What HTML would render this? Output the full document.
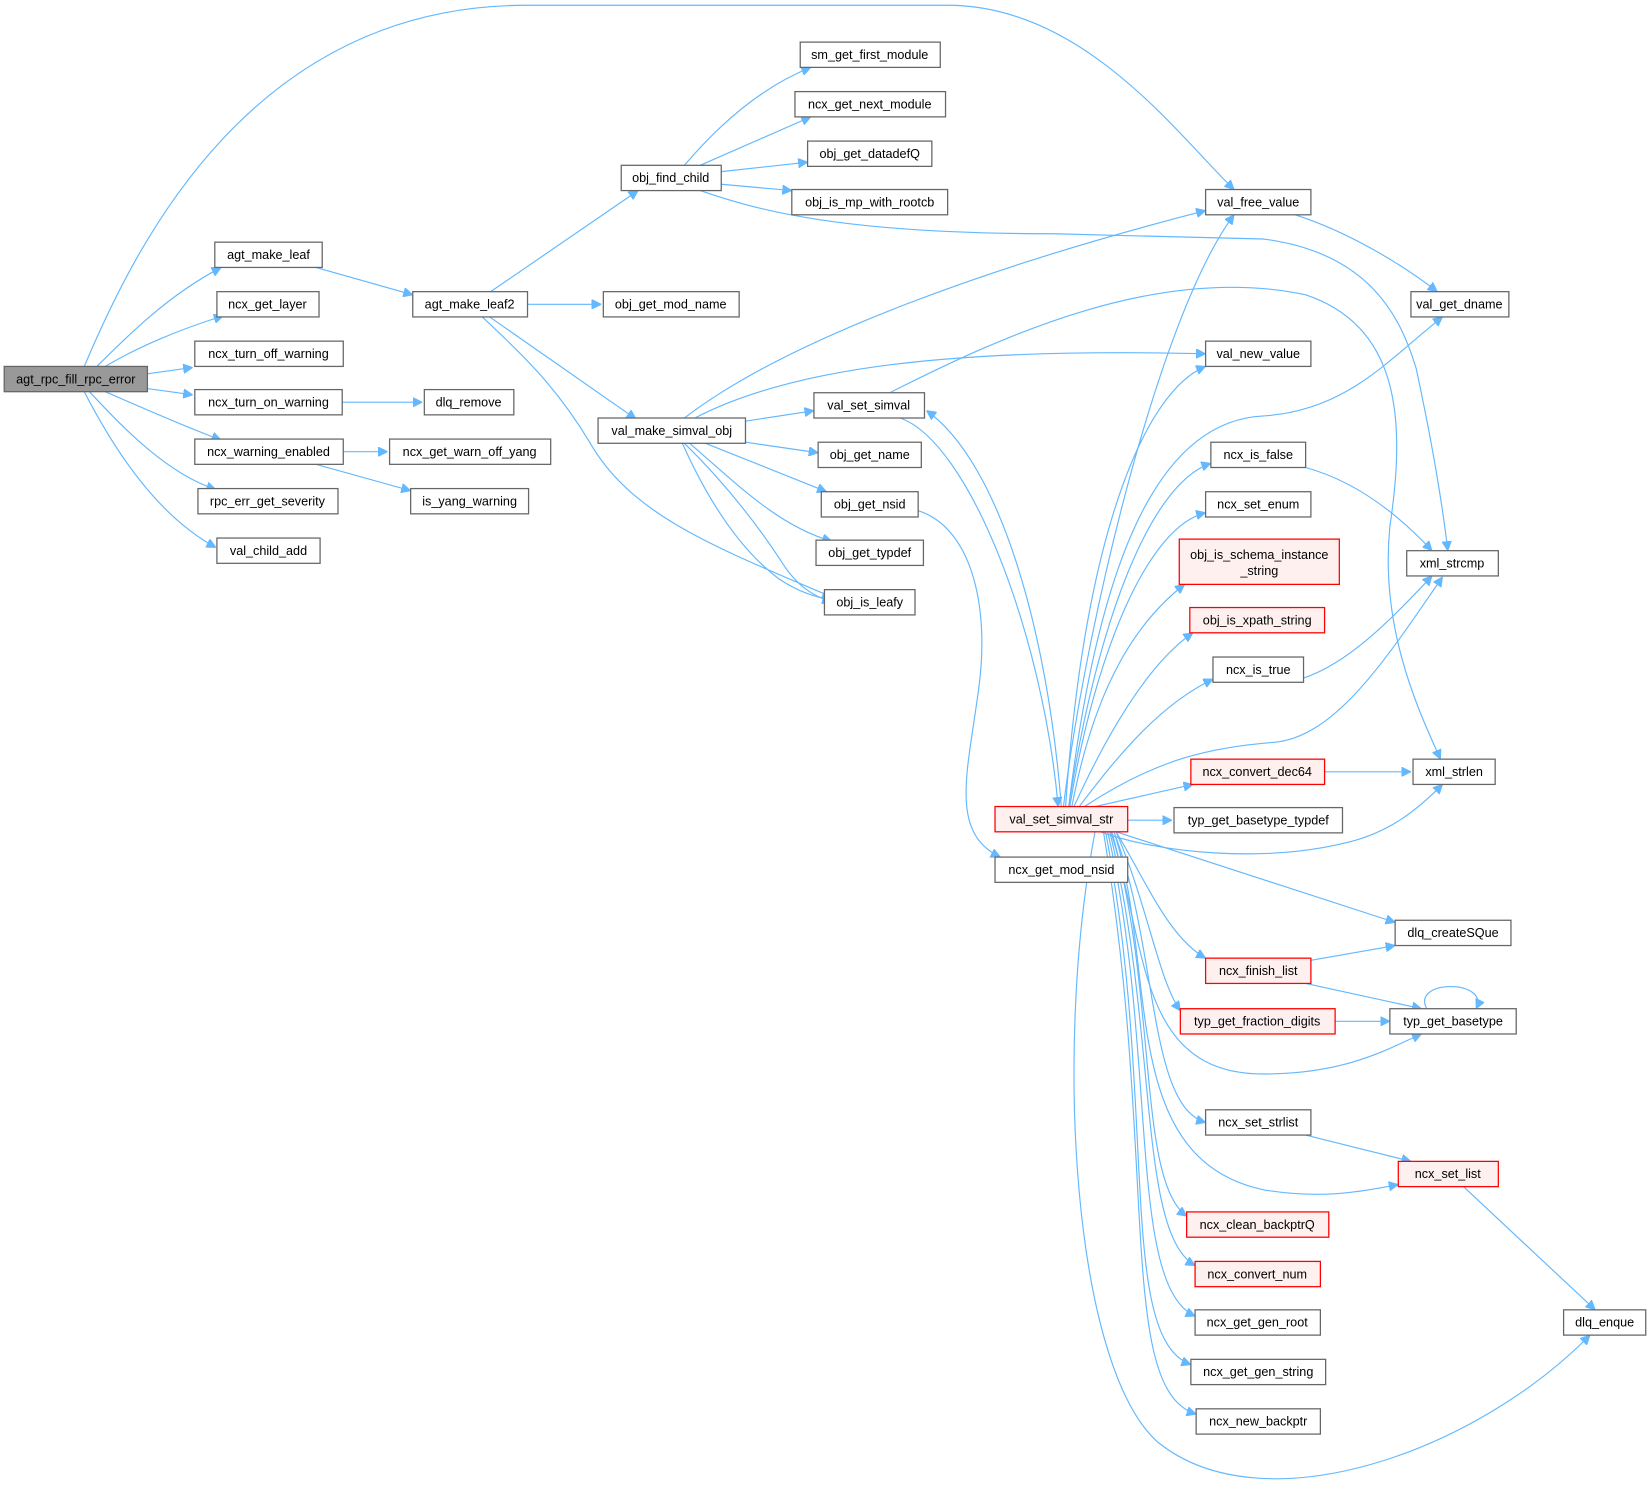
<!DOCTYPE html>
<html><head><meta charset="utf-8"><style>
html,body{margin:0;padding:0;background:#fff;}
svg{display:block;}
text{font-family:"Liberation Sans",Arial,sans-serif;font-size:12px;fill:#000;}
.n{fill:#fff;stroke:#666;stroke-width:1.2;}
.r{fill:#fff0f0;stroke:#f00;stroke-width:1.2;}
.g{fill:#999;stroke:#666;stroke-width:1.2;}
path.e{fill:none;stroke:#63b8ff;stroke-width:1.1;marker-end:url(#a);}
</style></head><body>
<svg width="1651" height="1492" viewBox="0 0 1568 1417" xmlns="http://www.w3.org/2000/svg">
<defs><marker id="a" viewBox="0 0 10 10" refX="10" refY="5" markerWidth="9" markerHeight="9" orient="auto" markerUnits="userSpaceOnUse"><path d="M0,0 L10,5 L0,10 z" fill="#63b8ff" stroke="#63b8ff"/></marker></defs>

<!-- edges -->
<path class="e" d="M80,348 C130,230 240,5 500,5 L900,5 C1030,5 1120,130 1172,180"/>
<path class="e" d="M92,348 C120,320 160,280 210,254"/>
<path class="e" d="M100,348 C130,330 170,313 212,300"/>
<path class="e" d="M140,355 L183,349"/>
<path class="e" d="M140,369 L183,375"/>
<path class="e" d="M100,372 C130,385 170,403 210,418"/>
<path class="e" d="M85,372 C120,410 160,450 205,465"/>
<path class="e" d="M80,372 C110,430 150,490 205,520"/>
<path class="e" d="M300,254 L392,280"/>
<path class="e" d="M325,382 L401,382"/>
<path class="e" d="M326,429 L368,429"/>
<path class="e" d="M300,441 L390,466"/>
<path class="e" d="M466,277 L606,181"/>
<path class="e" d="M501,289 L571,289"/>
<path class="e" d="M465,301 L604,398"/>
<path class="e" d="M458,301 C500,340 530,370 560,420 C600,490 680,520 790,567"/>
<path class="e" d="M650,397 C750,320 950,250 1145,200"/>
<path class="e" d="M660,397 C750,350 900,330 1145,336"/>
<path class="e" d="M708,400 L773,390"/>
<path class="e" d="M708,420 L777,430"/>
<path class="e" d="M670,421 L785,467"/>
<path class="e" d="M655,421 C700,460 740,500 790,514"/>
<path class="e" d="M650,421 C690,460 720,500 740,530 C755,555 770,565 790,572"/>
<path class="e" d="M648,421 C670,470 700,520 740,550 C760,563 775,567 790,570"/>
<path class="e" d="M650,157 C690,110 730,80 770,64"/>
<path class="e" d="M665,157 L770,111"/>
<path class="e" d="M685,163 L767,154"/>
<path class="e" d="M685,175 L752,181"/>
<path class="e" d="M665,181 C720,200 800,222 1000,222 L1200,227 C1300,240 1330,300 1345,350 C1360,420 1370,480 1375,523"/>
<path class="e" d="M872,485 C920,500 940,570 930,650 C920,730 900,790 950,814"/>
<path class="e" d="M855,397 C920,420 990,600 1005,766"/>
<path class="e" d="M1008,766 C995,600 950,440 880,390"/>
<path class="e" d="M845,373 C950,320 1100,250 1240,280 C1330,310 1335,400 1320,500 C1310,600 1350,680 1368,721"/>
<path class="e" d="M1230,204 C1280,220 1330,250 1365,277"/>
<path class="e" d="M1010,766 C1030,600 1100,300 1172,204"/>
<path class="e" d="M1012,766 C1030,500 1090,370 1145,348"/>
<path class="e" d="M1015,766 C1040,560 1090,400 1200,395 C1280,390 1320,340 1370,301"/>
<path class="e" d="M1015,766 C1040,600 1090,460 1150,440"/>
<path class="e" d="M1016,766 C1040,620 1090,500 1145,487"/>
<path class="e" d="M1018,766 C1040,650 1080,590 1125,555"/>
<path class="e" d="M1020,766 C1050,700 1090,630 1133,601"/>
<path class="e" d="M1025,766 C1060,720 1100,670 1152,645"/>
<path class="e" d="M1030,766 C1100,720 1150,710 1210,705 C1270,700 1320,620 1370,548"/>
<path class="e" d="M1040,766 L1133,745"/>
<path class="e" d="M1071,779 L1113,779"/>
<path class="e" d="M1045,790 C1100,810 1200,820 1280,800 C1320,790 1345,770 1370,745"/>
<path class="e" d="M1060,790 L1325,876"/>
<path class="e" d="M1060,790 C1090,840 1110,890 1145,910"/>
<path class="e" d="M1060,790 C1090,860 1100,930 1121,960"/>
<path class="e" d="M1055,790 C1090,900 1080,1020 1200,1020 C1280,1020 1320,995 1350,982"/>
<path class="e" d="M1058,790 C1100,900 1090,1050 1145,1066"/>
<path class="e" d="M1058,790 C1100,920 1060,1100 1200,1130 C1260,1140 1300,1130 1328,1125"/>
<path class="e" d="M1056,790 C1100,950 1080,1120 1127,1155"/>
<path class="e" d="M1054,790 C1100,980 1080,1170 1135,1202"/>
<path class="e" d="M1052,790 C1100,1000 1070,1220 1135,1250"/>
<path class="e" d="M1050,790 C1100,1050 1060,1270 1131,1296"/>
<path class="e" d="M1048,790 C1100,1100 1060,1320 1136,1343"/>
<path class="e" d="M1040,790 C1000,1000 1020,1300 1100,1370 C1200,1450 1400,1380 1510,1268"/>
<path class="e" d="M1240,444 C1280,455 1320,480 1360,523"/>
<path class="e" d="M1238,644 C1280,630 1320,590 1360,547"/>
<path class="e" d="M1258,733 L1340,733"/>
<path class="e" d="M1245,912 L1325,898"/>
<path class="e" d="M1240,934 L1350,958"/>
<path class="e" d="M1268,970 L1320,970"/>
<path class="e" d="M1355,958 C1340,930 1415,930 1402,958"/>
<path class="e" d="M1240,1078 L1340,1103"/>
<path class="e" d="M1390,1127 L1515,1244"/>

<!-- nodes -->
<g>
<rect class="g" x="4" y="348" width="136" height="24"/><text x="72" y="364" text-anchor="middle">agt_rpc_fill_rpc_error</text>
<rect class="n" x="204" y="230" width="102" height="24"/><text x="255" y="246" text-anchor="middle">agt_make_leaf</text>
<rect class="n" x="206" y="277" width="97" height="24"/><text x="254" y="293" text-anchor="middle">ncx_get_layer</text>
<rect class="n" x="185" y="324" width="141" height="24"/><text x="255" y="340" text-anchor="middle">ncx_turn_off_warning</text>
<rect class="n" x="185" y="370" width="140" height="24"/><text x="255" y="386" text-anchor="middle">ncx_turn_on_warning</text>
<rect class="n" x="185" y="417" width="141" height="24"/><text x="255" y="433" text-anchor="middle">ncx_warning_enabled</text>
<rect class="n" x="188" y="464" width="133" height="24"/><text x="254" y="480" text-anchor="middle">rpc_err_get_severity</text>
<rect class="n" x="206" y="511" width="98" height="24"/><text x="255" y="527" text-anchor="middle">val_child_add</text>
<rect class="n" x="392" y="277" width="109" height="24"/><text x="446" y="293" text-anchor="middle">agt_make_leaf2</text>
<rect class="n" x="403" y="370" width="85" height="24"/><text x="445" y="386" text-anchor="middle">dlq_remove</text>
<rect class="n" x="370" y="417" width="153" height="24"/><text x="446" y="433" text-anchor="middle">ncx_get_warn_off_yang</text>
<rect class="n" x="390" y="464" width="112" height="24"/><text x="446" y="480" text-anchor="middle">is_yang_warning</text>
<rect class="n" x="590" y="157" width="95" height="24"/><text x="637" y="173" text-anchor="middle">obj_find_child</text>
<rect class="n" x="573" y="277" width="129" height="24"/><text x="637" y="293" text-anchor="middle">obj_get_mod_name</text>
<rect class="n" x="568" y="397" width="140" height="24"/><text x="638" y="413" text-anchor="middle">val_make_simval_obj</text>
<rect class="n" x="760" y="40" width="133" height="24"/><text x="826" y="56" text-anchor="middle">sm_get_first_module</text>
<rect class="n" x="755" y="87" width="143" height="24"/><text x="826" y="103" text-anchor="middle">ncx_get_next_module</text>
<rect class="n" x="767" y="134" width="118" height="24"/><text x="826" y="150" text-anchor="middle">obj_get_datadefQ</text>
<rect class="n" x="752" y="180" width="148" height="24"/><text x="826" y="196" text-anchor="middle">obj_is_mp_with_rootcb</text>
<rect class="n" x="773" y="373" width="105" height="24"/><text x="825" y="389" text-anchor="middle">val_set_simval</text>
<rect class="n" x="777" y="420" width="98" height="24"/><text x="826" y="436" text-anchor="middle">obj_get_name</text>
<rect class="n" x="780" y="467" width="92" height="24"/><text x="826" y="483" text-anchor="middle">obj_get_nsid</text>
<rect class="n" x="775" y="513" width="102" height="24"/><text x="826" y="529" text-anchor="middle">obj_get_typdef</text>
<rect class="n" x="783" y="560" width="86" height="24"/><text x="826" y="576" text-anchor="middle">obj_is_leafy</text>
<rect class="r" x="945" y="766" width="126" height="24"/><text x="1008" y="782" text-anchor="middle">val_set_simval_str</text>
<rect class="n" x="945" y="814" width="126" height="24"/><text x="1008" y="830" text-anchor="middle">ncx_get_mod_nsid</text>
<rect class="n" x="1145" y="180" width="100" height="24"/><text x="1195" y="196" text-anchor="middle">val_free_value</text>
<rect class="n" x="1145" y="324" width="100" height="24"/><text x="1195" y="340" text-anchor="middle">val_new_value</text>
<rect class="n" x="1150" y="420" width="90" height="24"/><text x="1195" y="436" text-anchor="middle">ncx_is_false</text>
<rect class="n" x="1145" y="467" width="100" height="24"/><text x="1195" y="483" text-anchor="middle">ncx_set_enum</text>
<rect class="r" x="1120" y="512" width="152" height="43"/><text x="1196" y="531" text-anchor="middle">obj_is_schema_instance</text><text x="1196" y="546" text-anchor="middle">_string</text>
<rect class="r" x="1130" y="577" width="128" height="24"/><text x="1194" y="593" text-anchor="middle">obj_is_xpath_string</text>
<rect class="n" x="1152" y="624" width="86" height="24"/><text x="1195" y="640" text-anchor="middle">ncx_is_true</text>
<rect class="r" x="1131" y="721" width="127" height="24"/><text x="1194" y="737" text-anchor="middle">ncx_convert_dec64</text>
<rect class="n" x="1115" y="767" width="160" height="24"/><text x="1195" y="783" text-anchor="middle">typ_get_basetype_typdef</text>
<rect class="r" x="1145" y="910" width="100" height="24"/><text x="1195" y="926" text-anchor="middle">ncx_finish_list</text>
<rect class="r" x="1121" y="958" width="147" height="24"/><text x="1194" y="974" text-anchor="middle">typ_get_fraction_digits</text>
<rect class="n" x="1145" y="1054" width="100" height="24"/><text x="1195" y="1070" text-anchor="middle">ncx_set_strlist</text>
<rect class="r" x="1127" y="1151" width="135" height="24"/><text x="1194" y="1167" text-anchor="middle">ncx_clean_backptrQ</text>
<rect class="r" x="1135" y="1198" width="119" height="24"/><text x="1194" y="1214" text-anchor="middle">ncx_convert_num</text>
<rect class="n" x="1135" y="1244" width="119" height="24"/><text x="1194" y="1260" text-anchor="middle">ncx_get_gen_root</text>
<rect class="n" x="1131" y="1291" width="128" height="24"/><text x="1195" y="1307" text-anchor="middle">ncx_get_gen_string</text>
<rect class="n" x="1136" y="1338" width="118" height="24"/><text x="1195" y="1354" text-anchor="middle">ncx_new_backptr</text>
<rect class="n" x="1340" y="277" width="93" height="24"/><text x="1386" y="293" text-anchor="middle">val_get_dname</text>
<rect class="n" x="1336" y="523" width="87" height="24"/><text x="1379" y="539" text-anchor="middle">xml_strcmp</text>
<rect class="n" x="1342" y="721" width="78" height="24"/><text x="1381" y="737" text-anchor="middle">xml_strlen</text>
<rect class="n" x="1325" y="874" width="110" height="24"/><text x="1380" y="890" text-anchor="middle">dlq_createSQue</text>
<rect class="n" x="1320" y="958" width="120" height="24"/><text x="1380" y="974" text-anchor="middle">typ_get_basetype</text>
<rect class="r" x="1328" y="1103" width="95" height="24"/><text x="1375" y="1119" text-anchor="middle">ncx_set_list</text>
<rect class="n" x="1485" y="1244" width="78" height="24"/><text x="1524" y="1260" text-anchor="middle">dlq_enque</text>
</g>
</svg>
</body></html>
